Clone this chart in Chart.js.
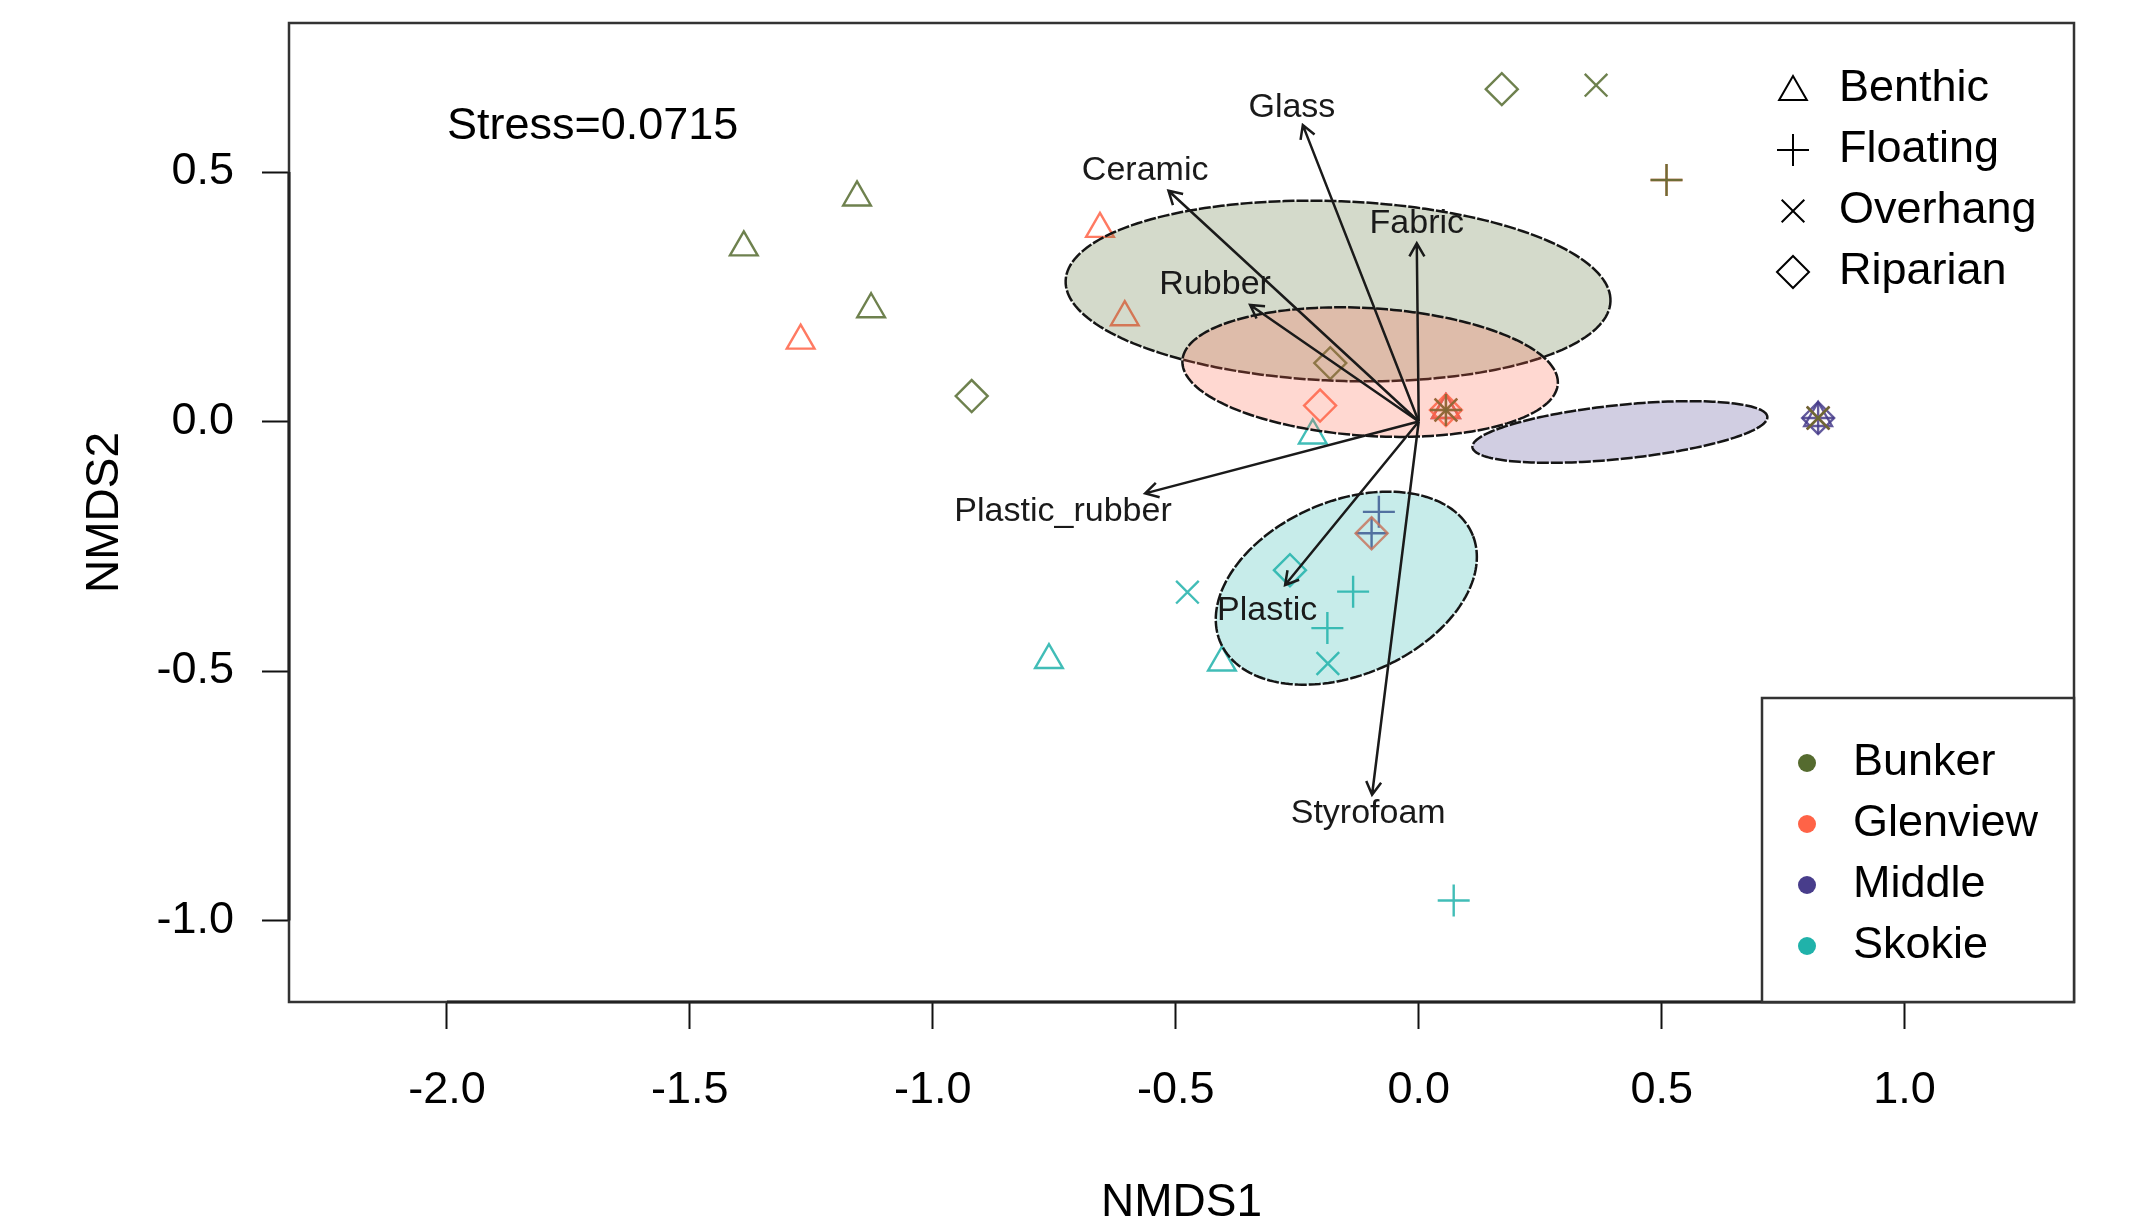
<!DOCTYPE html>
<html>
<head>
<meta charset="utf-8">
<script src="https://cdn.jsdelivr.net/npm/chart.js"></script>
<style>
  html, body { margin: 0; padding: 0; background: #fff; }
  #wrap { width: 2130px; height: 1226px; }
</style>
</head>
<body>
<div id="wrap"><canvas id="nmds-chart" width="2130" height="1226"></canvas></div>
<script>
const sites = ["Bunker", "Glenview", "Middle", "Skokie"];
const siteColors = ["85,107,47", "255,99,71", "72,61,139", "32,178,170"];
const habitats = ["Benthic", "Floating", "Overhang", "Riparian"];
const habitatShapes = ["triangle", "cross", "crossRot", "rectRot"];

// sample scores, habitat index into habitats[]
const bunkerX = [-1.156, -1.389, -1.127, -0.920, 0.171, 0.365, 0.510, -0.182, 0.056, 0.056, 0.822];
const bunkerY = [0.449, 0.349, 0.225, 0.051, 0.666, 0.674, 0.484, 0.117, 0.023, 0.023, 0.007];
const bunkerHab = [0, 0, 0, 3, 3, 2, 1, 3, 1, 2, 2];

const glenviewX = [-0.656, -0.605, -1.272, -0.203, 0.510, -0.097, 0.056, 0.056, 0.056, 0.056, 0.822];
const glenviewY = [0.386, 0.209, 0.162, 0.032, 0.484, -0.224, 0.023, 0.023, 0.023, 0.023, 0.007];
const glenviewHab = [0, 0, 0, 3, 1, 3, 0, 1, 2, 3, 2];

const middleX = [-0.082, -0.097, 0.056, 0.822, 0.822, 0.822, 0.822];
const middleY = [-0.181, -0.224, 0.023, 0.007, 0.007, 0.007, 0.007];
const middleHab = [1, 1, 0, 0, 1, 2, 3];

const skokieX = [-0.218, -0.405, -0.761, -0.476, -0.265, -0.135, -0.188, -0.187, 0.072];
const skokieY = [-0.028, -0.483, -0.478, -0.342, -0.298, -0.341, -0.414, -0.485, -0.960];
const skokieHab = [0, 0, 0, 2, 3, 1, 1, 2, 1];

// group ellipses: centre, semi axes, rotation (radians)
const ellCx = [-0.166, -0.100, 0.414, -0.149];
const ellCy = [0.2615, 0.099, -0.021, -0.334];
const ellA = [0.561, 0.387, 0.305, 0.281];
const ellB = [0.180, 0.128, 0.054, 0.175];
const ellAngle = [-0.037, -0.06, 0.10, 0.384];

// envfit vectors
const vecNames = ["Glass", "Ceramic", "Fabric", "Rubber", "Plastic_rubber", "Plastic", "Styrofoam"];
const vecX = [-0.2385, -0.515, -0.004, -0.347, -0.563, -0.275, -0.096];
const vecY = [0.594, 0.4625, 0.357, 0.2335, -0.144, -0.3277, -0.748];
const vecLabelX = [-0.261, -0.563, -0.004, -0.419, -0.732, -0.312, -0.104];
const vecLabelY = [0.630, 0.502, 0.397, 0.2735, -0.181, -0.378, -0.786];

const xTicks = [-2.0, -1.5, -1.0, -0.5, 0.0, 0.5, 1.0];
const yTicks = [-1.0, -0.5, 0.0, 0.5];
const stressText = "Stress=0.0715";

const FONT = "'Liberation Sans', Arial, Helvetica, sans-serif";

function siteData(xs, ys) {
  return xs.map(function(v, i) { return {x: v, y: ys[i]}; });
}

function siteDataset(i, xs, ys, hab) {
  return {
    label: sites[i],
    data: siteData(xs, ys),
    pointStyle: hab.map(function(h) { return habitatShapes[h]; }),
    pointRadius: 16,
    pointBorderWidth: 2.4,
    pointBackgroundColor: "rgba(0,0,0,0)",
    pointBorderColor: "rgba(" + siteColors[i] + ",0.85)",
    showLine: false
  };
}

function marker(ctx, style, radius, x, y) {
  if (Chart.helpers && Chart.helpers.drawPoint) {
    Chart.helpers.drawPoint(ctx, {pointStyle: style, radius: radius, borderWidth: ctx.lineWidth, rotation: 0}, x, y);
  }
}

const overlay = {
  id: "overlay",
  afterDatasetsDraw(chart) {
    const ctx = chart.ctx;
    const xs = chart.scales.x, ys = chart.scales.y;
    ctx.save();

    // ellipses drawn over the points, translucent fill
    for (let i = 0; i < sites.length; i++) {
      const c = Math.cos(ellAngle[i]), s = Math.sin(ellAngle[i]);
      ctx.beginPath();
      for (let k = 0; k <= 180; k++) {
        const t = k / 180 * Math.PI * 2;
        const ex = ellCx[i] + ellA[i] * Math.cos(t) * c - ellB[i] * Math.sin(t) * s;
        const ey = ellCy[i] + ellA[i] * Math.cos(t) * s + ellB[i] * Math.sin(t) * c;
        const px = xs.getPixelForValue(ex), py = ys.getPixelForValue(ey);
        if (k === 0) ctx.moveTo(px, py); else ctx.lineTo(px, py);
      }
      ctx.closePath();
      ctx.fillStyle = "rgba(" + siteColors[i] + ",0.25)";
      ctx.fill();
      ctx.setLineDash([12, 2]);
      ctx.lineWidth = 2.5;
      ctx.strokeStyle = "#151515";
      ctx.stroke();
      ctx.setLineDash([]);
    }

    // arrows
    const ox = xs.getPixelForValue(0), oy = ys.getPixelForValue(0);
    ctx.strokeStyle = "#1a1a1a";
    ctx.lineWidth = 2.5;
    for (let i = 0; i < vecNames.length; i++) {
      const tx = xs.getPixelForValue(vecX[i]), ty = ys.getPixelForValue(vecY[i]);
      const ang = Math.atan2(ty - oy, tx - ox);
      const L = 15;
      ctx.beginPath();
      ctx.moveTo(ox, oy);
      ctx.lineTo(tx, ty);
      ctx.moveTo(tx - L * Math.cos(ang - Math.PI / 6), ty - L * Math.sin(ang - Math.PI / 6));
      ctx.lineTo(tx, ty);
      ctx.lineTo(tx - L * Math.cos(ang + Math.PI / 6), ty - L * Math.sin(ang + Math.PI / 6));
      ctx.stroke();
    }
    ctx.fillStyle = "#1a1a1a";
    ctx.font = "34px " + FONT;
    ctx.textAlign = "center";
    ctx.textBaseline = "middle";
    for (let i = 0; i < vecNames.length; i++) {
      ctx.fillText(vecNames[i], xs.getPixelForValue(vecLabelX[i]), ys.getPixelForValue(vecLabelY[i]));
    }

    // stress
    ctx.fillStyle = "#000";
    ctx.font = "45px " + FONT;
    ctx.textAlign = "left";
    ctx.fillText(stressText, xs.getPixelForValue(-2.0), ys.getPixelForValue(0.592));
    ctx.restore();
  },
  afterDraw(chart) {
    const ctx = chart.ctx;
    const a = chart.chartArea;
    const xs = chart.scales.x, ys = chart.scales.y;
    ctx.save();

    // plot box and axis lines
    ctx.strokeStyle = "#333";
    ctx.lineWidth = 2.5;
    ctx.strokeRect(a.left, a.top, a.right - a.left, a.bottom - a.top);
    ctx.beginPath();
    ctx.moveTo(xs.getPixelForValue(xTicks[0]), a.bottom);
    ctx.lineTo(xs.getPixelForValue(xTicks[xTicks.length - 1]), a.bottom);
    ctx.moveTo(a.left, ys.getPixelForValue(yTicks[0]));
    ctx.lineTo(a.left, ys.getPixelForValue(yTicks[yTicks.length - 1]));
    ctx.strokeStyle = "#222";
    ctx.lineWidth = 3;
    ctx.stroke();

    // habitat legend (top right, no box)
    ctx.font = "45px " + FONT;
    ctx.textAlign = "left";
    ctx.textBaseline = "middle";
    for (let i = 0; i < habitats.length; i++) {
      const ry = a.top + 66 + i * 61;
      ctx.strokeStyle = "#000";
      ctx.fillStyle = "rgba(0,0,0,0)";
      ctx.lineWidth = 2;
      marker(ctx, habitatShapes[i], 16, a.right - 281, ry + (i === 0 ? 3 : 0));
      ctx.fillStyle = "#000";
      ctx.fillText(habitats[i], a.right - 235, ry);
    }

    // site legend (bottom right, boxed)
    const bx = a.right - 312, by = a.bottom - 304;
    ctx.fillStyle = "#fff";
    ctx.fillRect(bx, by, a.right - bx, a.bottom - by);
    ctx.strokeStyle = "#333";
    ctx.lineWidth = 2.5;
    ctx.strokeRect(bx, by, a.right - bx, a.bottom - by);
    for (let i = 0; i < sites.length; i++) {
      const ry = by + 65 + i * 61;
      ctx.beginPath();
      ctx.arc(bx + 45, ry, 9, 0, Math.PI * 2);
      ctx.fillStyle = "rgb(" + siteColors[i] + ")";
      ctx.fill();
      ctx.fillStyle = "#000";
      ctx.fillText(sites[i], bx + 91, ry);
    }
    ctx.restore();
  }
};

new Chart(document.getElementById("nmds-chart"), {
  type: "scatter",
  data: {
    datasets: [
      siteDataset(0, bunkerX, bunkerY, bunkerHab),
      siteDataset(1, glenviewX, glenviewY, glenviewHab),
      siteDataset(2, middleX, middleY, middleHab),
      siteDataset(3, skokieX, skokieY, skokieHab)
    ]
  },
  options: {
    responsive: false,
    devicePixelRatio: 1,
    animation: false,
    events: [],
    layout: {
      padding: {top: 23, right: 56, left: 0, bottom: 0}
    },
    plugins: {
      legend: {display: false},
      tooltip: {enabled: false}
    },
    scales: {
      x: {
        type: "linear",
        min: -2.325,
        max: 1.3486,
        afterFit: function(s) { s.height = 224; s.paddingLeft = 0; s.paddingRight = 0; },
        afterBuildTicks: function(s) { s.ticks = xTicks.map(function(v) { return {value: v}; }); },
        ticks: {
          includeBounds: false,
          autoSkip: false,
          maxRotation: 0,
          padding: 35,
          color: "#000",
          font: {family: FONT, size: 45},
          callback: function(v) { return Number(v).toFixed(1); }
        },
        grid: {
          drawOnChartArea: false,
          drawTicks: true,
          tickLength: 27,
          tickWidth: 2,
          tickColor: "#111"
        },
        border: {display: false},
        title: {
          display: true,
          text: "NMDS1",
          color: "#000",
          font: {family: FONT, size: 46, lineHeight: 1},
          padding: {top: 0, bottom: 0}
        }
      },
      y: {
        type: "linear",
        min: -1.1633,
        max: 0.7986,
        afterFit: function(s) { s.width = 289; s.paddingTop = 0; s.paddingBottom = 0; },
        afterBuildTicks: function(s) { s.ticks = yTicks.map(function(v) { return {value: v}; }); },
        ticks: {
          includeBounds: false,
          autoSkip: false,
          padding: 28,
          color: "#000",
          font: {family: FONT, size: 45},
          callback: function(v) { return Number(v).toFixed(1); }
        },
        grid: {
          drawOnChartArea: false,
          drawTicks: true,
          tickLength: 27,
          tickWidth: 2,
          tickColor: "#111"
        },
        border: {display: false},
        title: {
          display: true,
          text: "NMDS2",
          color: "#000",
          font: {family: FONT, size: 46},
          padding: {top: 78, bottom: 0}
        }
      }
    }
  },
  plugins: [overlay]
});
</script>
</body>
</html>
